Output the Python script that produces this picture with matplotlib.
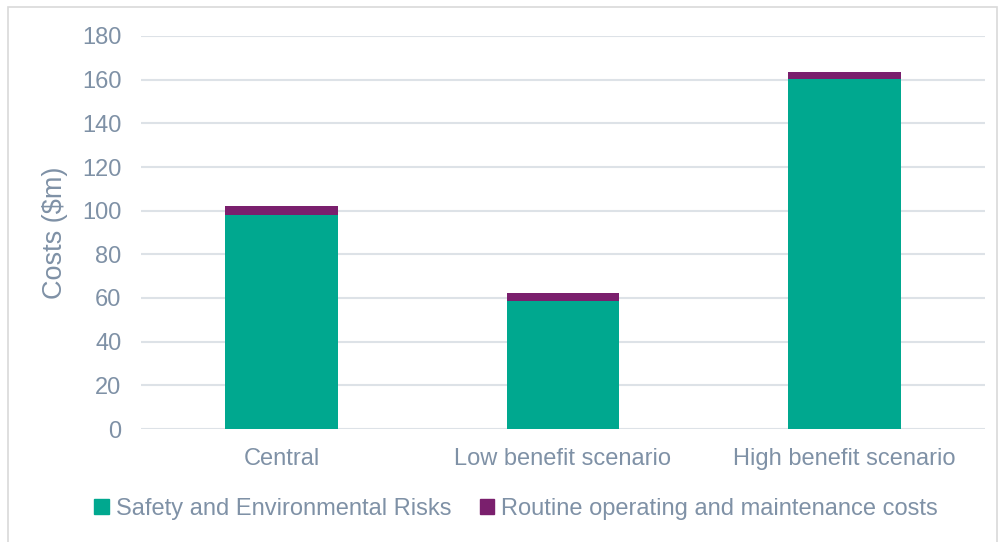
import matplotlib
matplotlib.use("Agg")
import matplotlib.pyplot as plt
from matplotlib.patches import Rectangle, Patch

categories = ["Central", "Low benefit scenario", "High benefit scenario"]
safety = [98.0, 58.6, 160.3]
routine = [4.0, 3.7, 3.4]
y_ticks = [0, 20, 40, 60, 80, 100, 120, 140, 160, 180]

teal = "#00A88F"
purple = "#7A1F6D"
text_col = "#7F91A6"
grid_col = "#DDE2E7"

plt.rcParams["font.family"] = ["Liberation Sans", "DejaVu Sans"]

fig = plt.figure(figsize=(9.99, 5.42), dpi=100)
ax = fig.add_axes([141 / 999, 1 - 429 / 542, 844 / 999, 393 / 542])

x = list(range(len(categories)))
ax.bar(x, safety, width=0.4, color=teal, zorder=3)
ax.bar(x, routine, width=0.4, bottom=safety, color=purple, zorder=3)

ax.set_xlim(-0.5, 2.5)
ax.set_ylim(0, 180)
ax.set_yticks(y_ticks)
ax.set_xticks(x)
ax.set_xticklabels(categories)
ax.yaxis.grid(True, color=grid_col, linewidth=1.5, zorder=0)
ax.set_axisbelow(True)
for s in ax.spines.values():
    s.set_visible(False)
ax.tick_params(axis="both", length=0, labelsize=17, labelcolor=text_col)
ax.tick_params(axis="y", pad=14)
ax.tick_params(axis="x", pad=14)
ax.set_ylabel("Costs ($m)", fontsize=19.5, color=text_col, labelpad=10)

handles = [Patch(color=teal, label="Safety and Environmental Risks"),
           Patch(color=purple, label="Routine operating and maintenance costs")]
fig.legend(handles=handles, loc="center", bbox_to_anchor=(516 / 999, 1 - 509 / 542),
           ncol=2, frameon=False, fontsize=17, labelcolor=text_col,
           handlelength=0.6, handleheight=0.6, handletextpad=0.3, columnspacing=1.2)

fig.patches.append(Rectangle((8 / 999, -0.01), 989 / 999, 1 - 7 / 542 + 0.01,
                             transform=fig.transFigure, fill=False,
                             edgecolor="#D9D9D9", linewidth=1.2))

fig.savefig("out.png", dpi=100)
